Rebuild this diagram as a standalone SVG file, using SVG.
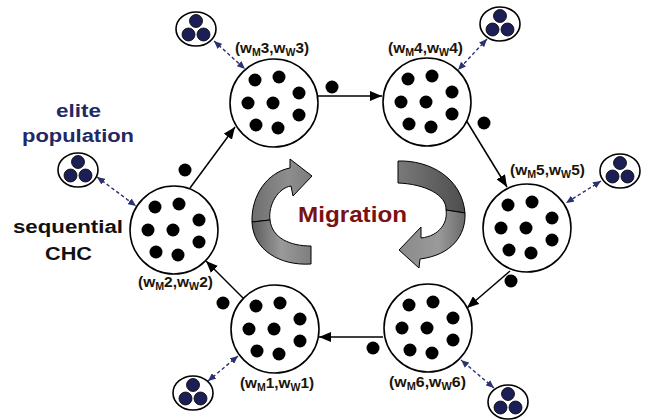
<svg xmlns="http://www.w3.org/2000/svg" xmlns:xlink="http://www.w3.org/1999/xlink" width="654" height="420" viewBox="0 0 654 420">
<style>
.node{fill:#fff;stroke:#000;stroke-width:1.6}
.elite{fill:#fff;stroke:#000;stroke-width:1.6}
.ed{fill:#1b1f55;stroke:#000;stroke-width:0.8}
.lbl{font-family:"Liberation Sans",Arial,sans-serif;font-weight:bold;font-size:14.5px;fill:#1c1408}
.big{font-family:"Liberation Sans",Arial,sans-serif;font-weight:bold;font-size:18px}
.solid{stroke:#000;stroke-width:1.5;fill:none;marker-end:url(#ah)}
.dash{stroke:#2c3270;stroke-width:1.4;fill:none;stroke-dasharray:3.5 2.5;marker-start:url(#dh);marker-end:url(#dh)}
.mig{stroke:#000;stroke-width:1;stroke-linejoin:round}
</style>
<defs>
<marker id="ah" markerUnits="userSpaceOnUse" markerWidth="12" markerHeight="10" refX="12" refY="5" orient="auto"><path d="M0,0 L12,5 L0,10 z" fill="#000"/></marker>
<marker id="dh" markerUnits="userSpaceOnUse" markerWidth="8" markerHeight="7" refX="8" refY="3.5" orient="auto-start-reverse"><path d="M0,0 L8,3.5 L0,7 z" fill="#2c3270"/></marker>
<g id="dots">
<circle cx="-19" cy="-23" r="6.5"/><circle cx="5" cy="-26" r="6.5"/><circle cx="25" cy="-10" r="6.5"/>
<circle cx="-26" cy="0" r="6.5"/><circle cx="-1" cy="0" r="6.5"/><circle cx="25" cy="12" r="6.5"/>
<circle cx="-18" cy="22" r="6.5"/><circle cx="4" cy="25" r="6.5"/>
</g>
<g id="ep">
<ellipse class="elite" cx="0" cy="0" rx="20" ry="17"/>
<circle class="ed" cx="0" cy="-8" r="6.5"/><circle class="ed" cx="-7.5" cy="5.5" r="6.5"/><circle class="ed" cx="7.5" cy="5.5" r="6.5"/>
</g>
<linearGradient id="gLu" x1="0" y1="0" x2="1" y2="0"><stop offset="0" stop-color="#6e6e6e"/><stop offset="0.6" stop-color="#8e8e8e"/><stop offset="1" stop-color="#7c7c7c"/></linearGradient>
<linearGradient id="gLd" x1="0" y1="0" x2="1" y2="0"><stop offset="0" stop-color="#5c5c5c"/><stop offset="0.5" stop-color="#9a9a9a"/><stop offset="1" stop-color="#7e7e7e"/></linearGradient>
<linearGradient id="gRu" x1="0" y1="0" x2="1" y2="0"><stop offset="0" stop-color="#7a7a7a"/><stop offset="0.6" stop-color="#5e5e5e"/><stop offset="1" stop-color="#4e4e4e"/></linearGradient>
<linearGradient id="gRd" x1="0" y1="0" x2="1" y2="0"><stop offset="0" stop-color="#8a8a8a"/><stop offset="0.6" stop-color="#9a9a9a"/><stop offset="1" stop-color="#6a6a6a"/></linearGradient>
</defs>

<g id="migration">
<path class="mig" fill="url(#gLu)" d="M252 222 C251 195 268 172 290 168 L290 159 L312 176 L293 196 L291 186 C278 188 268 205 270 220 Z"/>
<path class="mig" fill="url(#gLd)" d="M252 222 C253 250 280 266 311 264 L311 246 C290 246 272 238 270 220 Z"/>
<path class="mig" fill="url(#gRu)" d="M398 161 C430 160 462 178 465 213 L446 210 C447 195 425 184 398 183 Z"/>
<path class="mig" fill="url(#gRd)" d="M465 213 C466 235 452 255 420 259 L419 268 L399 250 L421 227 L421 238 C440 236 448 222 446 210 Z"/>
<text x="298" y="222" font-family="'Liberation Sans',Arial,sans-serif" font-weight="bold" font-size="22" fill="#7a1212" textLength="109" lengthAdjust="spacingAndGlyphs">Migration</text>
</g>

<g id="connectors">
<path class="solid" d="M243 298 L206 261"/>
<path class="solid" d="M190 188 L235 127"/>
<path class="solid" d="M318 96 L382 96"/>
<path class="solid" d="M466 120 L507 187"/>
<path class="solid" d="M510 271 L467 308"/>
<path class="solid" d="M383 337 L319 337"/>
<path class="dash" d="M214 41 L245 69"/>
<path class="dash" d="M487 39 L458 70"/>
<path class="dash" d="M97 177 L136 206"/>
<path class="dash" d="M601 181 L566 203"/>
<path class="dash" d="M208 381 L238 356"/>
<path class="dash" d="M494 388 L461 360"/>
</g>

<g id="node1"><circle class="node" cx="275" cy="329" r="44"/><use href="#dots" x="275" y="329"/>
<text class="lbl" x="240" y="388" textLength="74" lengthAdjust="spacingAndGlyphs">(w<tspan dy="3" font-size="10">M</tspan><tspan dy="-3">1,w</tspan><tspan dy="3" font-size="10">W</tspan><tspan dy="-3">1)</tspan></text></g>
<g id="node2"><circle class="node" cx="174" cy="230" r="44"/><use href="#dots" x="174" y="230"/>
<text class="lbl" x="138" y="287" textLength="75" lengthAdjust="spacingAndGlyphs">(w<tspan dy="3" font-size="10">M</tspan><tspan dy="-3">2,w</tspan><tspan dy="3" font-size="10">W</tspan><tspan dy="-3">2)</tspan></text></g>
<g id="node3"><circle class="node" cx="274" cy="103" r="44"/><use href="#dots" x="274" y="103"/>
<text class="lbl" x="235" y="53" textLength="74" lengthAdjust="spacingAndGlyphs">(w<tspan dy="3" font-size="10">M</tspan><tspan dy="-3">3,w</tspan><tspan dy="3" font-size="10">W</tspan><tspan dy="-3">3)</tspan></text></g>
<g id="node4"><circle class="node" cx="427" cy="102" r="44"/><use href="#dots" x="427" y="102"/>
<text class="lbl" x="388" y="53" textLength="75" lengthAdjust="spacingAndGlyphs">(w<tspan dy="3" font-size="10">M</tspan><tspan dy="-3">4,w</tspan><tspan dy="3" font-size="10">W</tspan><tspan dy="-3">4)</tspan></text></g>
<g id="node5"><circle class="node" cx="527" cy="228" r="44"/><use href="#dots" x="527" y="228"/>
<text class="lbl" x="510" y="175" textLength="75" lengthAdjust="spacingAndGlyphs">(w<tspan dy="3" font-size="10">M</tspan><tspan dy="-3">5,w</tspan><tspan dy="3" font-size="10">W</tspan><tspan dy="-3">5)</tspan></text></g>
<g id="node6"><circle class="node" cx="428" cy="328" r="44"/><use href="#dots" x="428" y="328"/>
<text class="lbl" x="389" y="387" textLength="77" lengthAdjust="spacingAndGlyphs">(w<tspan dy="3" font-size="10">M</tspan><tspan dy="-3">6,w</tspan><tspan dy="3" font-size="10">W</tspan><tspan dy="-3">6)</tspan></text></g>

<g id="elite1"><use href="#ep" x="193" y="393"/></g>
<g id="elite2"><use href="#ep" x="78" y="170"/></g>
<g id="elite3"><use href="#ep" x="196" y="29"/></g>
<g id="elite4"><use href="#ep" x="500" y="24"/></g>
<g id="elite5"><use href="#ep" x="620" y="171"/></g>
<g id="elite6"><use href="#ep" x="508" y="402"/></g>

<g id="migrants" fill="#000">
<circle cx="332" cy="87" r="6.5"/><circle cx="484" cy="123" r="6.5"/><circle cx="511" cy="281" r="6.5"/>
<circle cx="373" cy="348" r="6.5"/><circle cx="223" cy="303" r="6.5"/><circle cx="185" cy="170" r="6.5"/>
</g>

<g id="annotations">
<text class="big" x="56" y="117" fill="#1f2966" textLength="45" lengthAdjust="spacingAndGlyphs">elite</text>
<text class="big" x="22" y="142" fill="#1f2966" textLength="112" lengthAdjust="spacingAndGlyphs">population</text>
<text class="big" x="13" y="233" fill="#111" textLength="110" lengthAdjust="spacingAndGlyphs">sequential</text>
<text class="big" x="45" y="260" fill="#111" textLength="47" lengthAdjust="spacingAndGlyphs">CHC</text>
</g>
</svg>
